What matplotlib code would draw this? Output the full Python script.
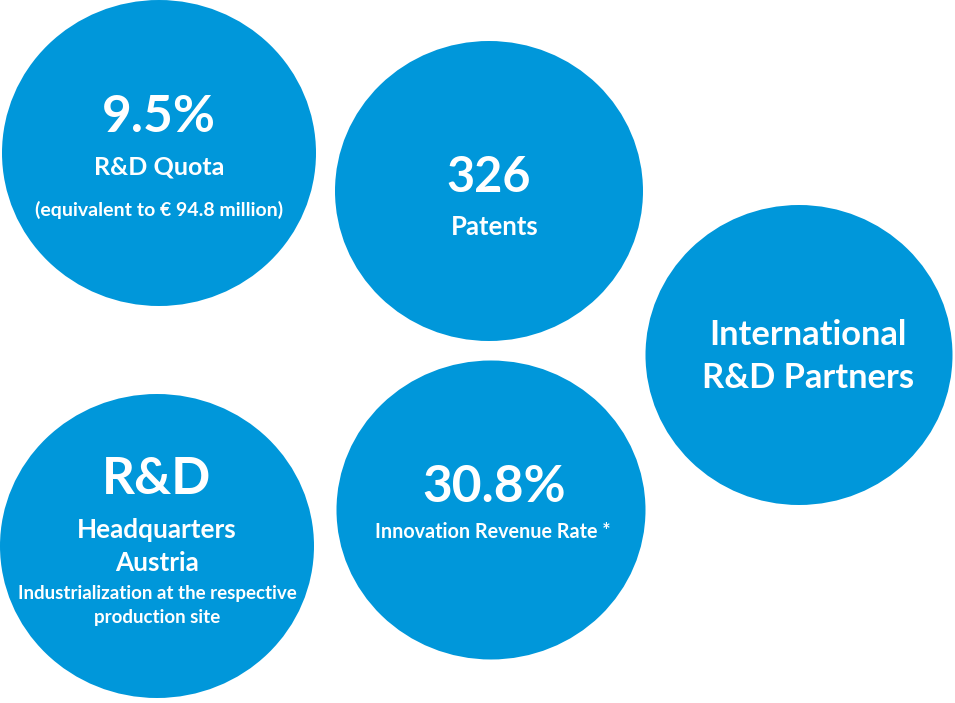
import matplotlib
matplotlib.use('Agg')
import matplotlib.pyplot as plt
from matplotlib.patches import Ellipse

plt.rcParams['font.family'] = ['Lato', 'DejaVu Sans']

# key figures shown in the bubbles
headlines = ['9.5%', '326', '', 'R&D', '30.8%']
captions = [
    ['R&D Quota'],
    ['Patents'],
    ['International', 'R&D Partners'],
    ['Headquarters', 'Austria'],
    ['Innovation Revenue Rate *'],
]
notes = [
    ['(equivalent to € 94.8 million)'],
    [],
    [],
    ['Industrialization at the respective', 'production site'],
    [],
]

# bubble layout in pixels: centre x, centre y, width, height
bubbles = [
    (159, 153, 314, 306),
    (489, 191, 308, 300),
    (799, 355, 307, 300),
    (157, 546, 314, 304),
    (491, 510, 309, 299),
]
# text rows (y in pixels) for each bubble
head_y = [118, 177, None, 480, 488]
head_size = [37, 35, 0, 37, 37]
head_dx = [0, 0, 0, 0, 3]
cap_y = [[167], [227], [335, 378], [530, 563], [532]]
cap_size = [18, 18.5, 24.8, 18.8, 14.2]
cap_dx = [0, 6, 9, 0, 2]
note_y = [[210], [], [], [593, 617], []]
note_size = [14, 0, 0, 13.5, 0]

blue = '#0097DA'

fig = plt.figure(figsize=(9.55, 7.03), dpi=100)
ax = fig.add_axes([0, 0, 1, 1])
ax.set_xlim(0, 955)
ax.set_ylim(703, 0)
ax.axis('off')

for i, (cx, cy, w, h) in enumerate(bubbles):
    ax.add_patch(Ellipse((cx, cy), w, h, color=blue, lw=0))
    if headlines[i]:
        ax.text(cx + head_dx[i], head_y[i], headlines[i], color='white',
                fontsize=head_size[i], fontweight='bold', ha='center', va='center')
    for txt, y in zip(captions[i], cap_y[i]):
        ax.text(cx + cap_dx[i], y, txt, color='white', fontsize=cap_size[i],
                fontweight='bold', ha='center', va='center')
    for txt, y in zip(notes[i], note_y[i]):
        ax.text(cx, y, txt, color='white', fontsize=note_size[i],
                fontweight='bold', ha='center', va='center')

fig.savefig('out.png', dpi=100, facecolor='white')
